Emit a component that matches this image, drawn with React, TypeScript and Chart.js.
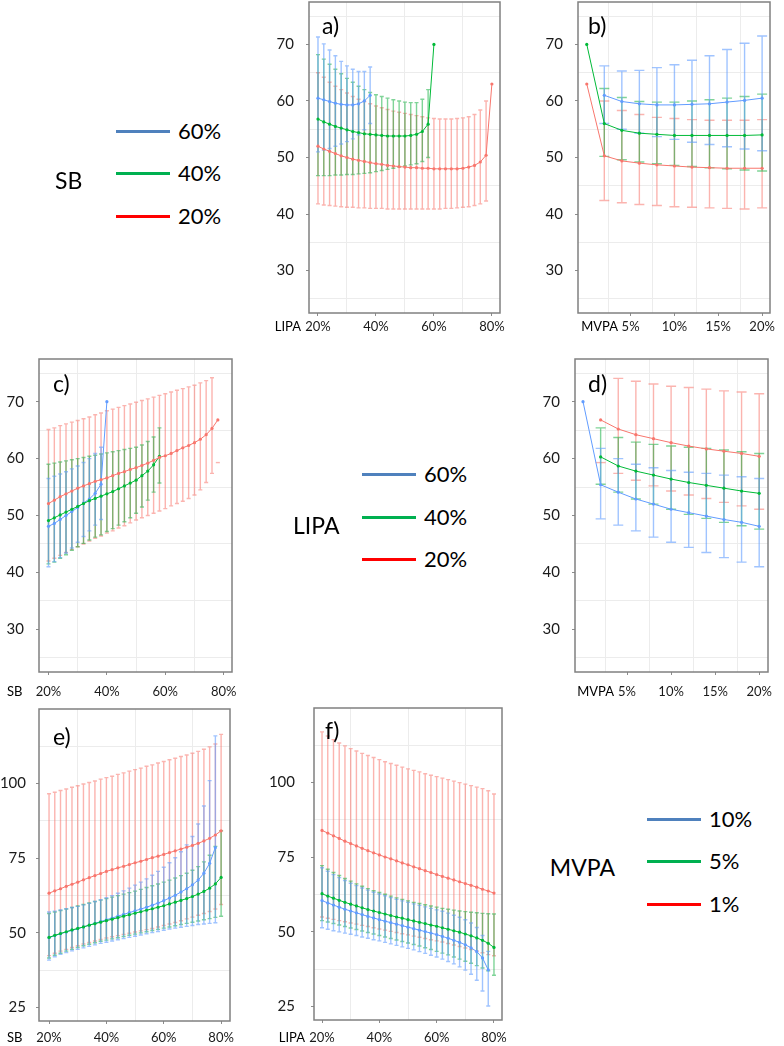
import React, { useEffect, useRef } from "react";
import { Chart, registerables } from "chart.js";

Chart.register(...registerables);

const FONT = "Lato, 'Open Sans', sans-serif";

// series colours (lines / points) and the paler tints of their error bars
const RED = "#F8766D";
const GREEN = "#00BA38";
const BLUE = "#619CFF";
const RED_BAR = "rgba(248, 118, 109, 0.55)";
const GREEN_BAR = "rgba(0, 170, 50, 0.5)";
const BLUE_BAR = "rgba(97, 156, 255, 0.6)";
const GRID = "#ececec";
const TICK = "#8c8c8c";

// x positions
const shareSteps = [20, 22, 24, 26, 28, 30, 32, 34, 36, 38, 40, 42, 44, 46, 48, 50, 52, 54, 56, 58, 60, 62, 64, 66, 68, 70, 72, 74, 76, 78, 80];
const mvpaSteps = [0, 2, 4, 6, 8, 10, 12, 14, 16, 18, 20];

// axis ticks (labelled ones carry a tick mark, the others a grid line)
const lowYTicks = [25, 30, 35, 40, 45, 50, 55, 60, 65, 70, 75];
const lowYLabels = [30, 40, 50, 60, 70];
const highYTicks = [25, 37.5, 50, 62.5, 75, 87.5, 100, 112.5];
const highYLabels = [25, 50, 75, 100];
const shareTicks = [20, 30, 40, 50, 60, 70, 80];
const shareLabels = [20, 40, 60, 80];
const mvpaTicks = [2.5, 5, 7.5, 10, 12.5, 15, 17.5, 20];
const mvpaLabels = [5, 10, 15, 20];

// a) x = LIPA, lines = SB
const aRedMean = [52.0, 51.5, 51.1, 50.7, 50.3, 50.0, 49.7, 49.5, 49.3, 49.1, 48.9, 48.8, 48.6, 48.5, 48.4, 48.3, 48.2, 48.2, 48.1, 48.1, 48.0, 48.0, 48.0, 48.0, 48.0, 48.1, 48.3, 48.6, 49.2, 50.4, 63.0];
const aRedHi = [65.0, 64.2, 63.3, 62.6, 62.0, 61.4, 60.8, 60.3, 59.9, 59.5, 59.1, 58.8, 58.5, 58.2, 58.0, 57.8, 57.6, 57.4, 57.2, 57.0, 56.9, 56.8, 56.8, 56.8, 56.9, 57.0, 57.2, 57.6, 58.4, 60.0, null];
const aRedLo = [41.8, 41.6, 41.5, 41.4, 41.3, 41.2, 41.2, 41.1, 41.1, 41.0, 41.0, 41.0, 40.9, 40.9, 40.9, 40.9, 40.9, 40.9, 40.9, 40.9, 40.9, 40.9, 41.0, 41.0, 41.1, 41.2, 41.3, 41.5, 41.8, 42.3, null];
const aGreenMean = [56.8, 56.3, 55.9, 55.5, 55.2, 54.9, 54.6, 54.4, 54.2, 54.1, 54.0, 53.9, 53.8, 53.8, 53.8, 53.8, 53.9, 54.1, 54.6, 55.9, 70.0];
const aGreenHi = [68.2, 67.4, 66.5, 65.6, 64.8, 64.0, 63.3, 62.6, 62.0, 61.5, 61.1, 60.8, 60.5, 60.2, 60.0, 59.8, 59.7, 59.7, 60.3, 62.0, null];
const aGreenLo = [46.8, 46.8, 46.8, 46.9, 46.9, 47.0, 47.0, 47.1, 47.2, 47.3, 47.5, 47.7, 47.9, 48.1, 48.3, 48.5, 48.7, 48.9, 49.3, 50.0, null];
const aBlueMean = [60.5, 60.2, 59.9, 59.6, 59.4, 59.3, 59.3, 59.5, 60.0, 61.0];
const aBlueHi = [71.3, 70.1, 69.0, 68.0, 67.0, 66.2, 65.6, 65.2, 65.2, 66.0];
const aBlueLo = [51.0, 51.3, 51.6, 52.0, 52.4, 52.8, 53.3, 54.0, 54.9, 56.0];

// b) x = MVPA, lines = SB
const bRedMean = [63.0, 50.3, 49.4, 49.0, 48.7, 48.5, 48.3, 48.2, 48.1, 48.1, 48.1];
const bRedHi = [null, 60.0, 58.3, 57.6, 57.1, 56.9, 56.7, 56.6, 56.6, 56.6, 56.7];
const bRedLo = [null, 42.4, 42.0, 41.7, 41.5, 41.3, 41.2, 41.1, 41.0, 40.9, 41.1];
const bGreenMean = [70.0, 56.0, 54.8, 54.3, 54.1, 53.9, 53.9, 53.9, 53.9, 53.9, 54.0];
const bGreenHi = [null, 62.2, 60.6, 59.9, 59.8, 59.8, 60.0, 60.2, 60.5, 60.8, 61.2];
const bGreenLo = [null, 50.2, 49.6, 49.2, 48.9, 48.6, 48.4, 48.2, 48.0, 47.8, 47.6];
const bBlueMean = [null, 61.0, 59.9, 59.5, 59.3, 59.3, 59.4, 59.5, 59.8, 60.1, 60.5];
const bBlueHi = [null, 66.2, 65.3, 65.4, 65.9, 66.4, 67.2, 68.0, 69.1, 70.2, 71.5];
const bBlueLo = [null, 56.0, 55.0, 54.3, 53.7, 53.2, 52.7, 52.3, 51.9, 51.5, 51.2];

// c) x = SB, lines = LIPA
const cRedMean = [52.1, 52.7, 53.3, 53.8, 54.3, 54.8, 55.2, 55.6, 56.0, 56.3, 56.6, 57.0, 57.4, 57.7, 58.1, 58.4, 58.8, 59.2, 59.7, 60.2, 60.5, 60.9, 61.4, 61.9, 62.3, 62.8, 63.4, 64.2, 65.3, 66.8];
const cRedHi = [65.1, 65.4, 65.8, 66.1, 66.4, 66.7, 67.0, 67.3, 67.7, 68.0, 68.4, 68.7, 69.0, 69.3, 69.6, 69.9, 70.2, 70.5, 70.8, 71.1, 71.4, 71.7, 72.0, 72.3, 72.6, 72.9, 73.3, 73.7, 74.2, null];
const cRedLo = [42.0, 42.5, 43.0, 43.5, 44.0, 44.5, 45.0, 45.5, 46.0, 46.4, 46.9, 47.3, 47.8, 48.2, 48.7, 49.2, 49.6, 50.0, 50.4, 50.8, 51.2, 51.7, 52.1, 52.5, 53.0, 53.6, 54.5, 55.8, 57.4, 59.3];
const cGreenMean = [49.1, 49.6, 50.1, 50.6, 51.1, 51.6, 52.1, 52.6, 53.0, 53.4, 53.8, 54.2, 54.7, 55.2, 55.7, 56.2, 57.0, 57.8, 58.9, 60.4];
const cGreenHi = [59.0, 59.2, 59.4, 59.6, 59.8, 60.0, 60.2, 60.4, 60.6, 60.8, 61.0, 61.2, 61.4, 61.6, 61.8, 62.0, 62.4, 63.0, 63.8, 65.4];
const cGreenLo = [41.5, 41.8, 42.5, 43.1, 43.9, 44.5, 45.1, 45.7, 46.2, 46.6, 47.2, 47.7, 48.3, 48.9, 49.6, 50.4, 51.5, 52.7, 54.1, 55.7];
const cBlueMean = [48.1, 48.6, 49.3, 50.0, 50.7, 51.4, 52.2, 52.9, 53.9, 55.5, 70.0];
const cBlueHi = [56.5, 56.9, 57.3, 57.7, 58.2, 58.7, 59.3, 60.0, 60.9, 62.0, null];
const cBlueLo = [41.0, 41.9, 42.6, 43.4, 44.3, 45.3, 46.3, 47.3, 48.3, 49.3, null];

// d) x = MVPA, lines = LIPA
const dRedMean = [null, 66.8, 65.2, 64.2, 63.5, 62.8, 62.2, 61.7, 61.3, 60.9, 60.4];
const dRedHi = [null, null, 74.1, 73.6, 73.1, 72.7, 72.5, 72.2, 71.9, 71.7, 71.4];
const dRedLo = [null, 59.3, 57.4, 56.2, 55.2, 54.3, 53.6, 53.0, 52.3, 51.7, 51.1];
const dGreenMean = [null, 60.3, 58.7, 57.8, 57.1, 56.4, 55.8, 55.3, 54.8, 54.3, 53.9];
const dGreenHi = [null, 65.4, 63.7, 62.9, 62.5, 62.2, 62.0, 61.8, 61.5, 61.2, 60.9];
const dGreenLo = [null, 55.5, 54.1, 52.9, 52.0, 51.1, 50.2, 49.5, 48.8, 48.2, 47.6];
const dBlueMean = [70.0, 55.4, 54.1, 52.9, 52.0, 51.1, 50.5, 49.9, 49.3, 48.8, 48.1];
const dBlueHi = [null, 61.8, 60.0, 59.0, 58.4, 57.9, 57.6, 57.4, 57.1, 56.8, 56.5];
const dBlueLo = [null, 49.4, 48.3, 47.3, 46.2, 45.3, 44.4, 43.5, 42.6, 41.8, 41.0];

// e) x = SB, lines = MVPA
const eRedMean = [63.3, 64.1, 64.8, 65.6, 66.3, 67.0, 67.8, 68.5, 69.2, 69.9, 70.6, 71.2, 71.8, 72.3, 72.9, 73.5, 74.0, 74.6, 75.2, 75.7, 76.3, 76.9, 77.5, 78.1, 78.7, 79.3, 80.0, 80.8, 81.7, 82.8, 84.2];
const eRedHi = [96.6, 97.1, 97.7, 98.2, 98.8, 99.3, 99.9, 100.4, 100.9, 101.5, 102.0, 102.5, 103.1, 103.6, 104.2, 104.7, 105.2, 105.8, 106.3, 106.9, 107.4, 108.0, 108.5, 109.1, 109.6, 110.2, 110.8, 111.5, 112.3, 113.3, 116.5];
const eRedLo = [42.4, 43.2, 43.9, 44.5, 45.1, 45.7, 46.3, 46.8, 47.3, 47.8, 48.3, 48.7, 49.1, 49.5, 49.9, 50.3, 50.7, 51.1, 51.5, 52.0, 52.5, 53.0, 53.5, 54.1, 54.7, 55.3, 55.9, 56.5, 57.2, 58.0, 59.5];
const eGreenMean = [48.5, 49.2, 49.8, 50.4, 51.0, 51.5, 52.0, 52.6, 53.1, 53.6, 54.1, 54.6, 55.1, 55.6, 56.1, 56.6, 57.1, 57.6, 58.1, 58.6, 59.1, 59.7, 60.3, 60.9, 61.5, 62.2, 63.0, 63.9, 65.0, 66.4, 68.6];
const eGreenHi = [56.5, 57.0, 57.5, 58.0, 58.5, 59.0, 59.5, 60.0, 60.5, 61.0, 61.5, 62.0, 62.5, 63.0, 63.5, 64.0, 64.6, 65.2, 65.8, 66.4, 67.0, 67.7, 68.4, 69.2, 70.0, 71.0, 72.2, 73.8, 76.0, 79.0, 84.2];
const eGreenLo = [41.6, 42.5, 43.2, 43.9, 44.5, 45.1, 45.7, 46.2, 46.7, 47.2, 47.6, 48.0, 48.4, 48.8, 49.2, 49.6, 50.0, 50.4, 50.8, 51.2, 51.6, 52.0, 52.4, 52.8, 53.2, 53.6, 54.0, 54.4, 54.8, 55.2, 55.6];
const eBlueMean = [48.4, 49.1, 49.7, 50.3, 50.9, 51.4, 52.0, 52.6, 53.2, 53.8, 54.4, 55.0, 55.6, 56.2, 56.8, 57.4, 58.0, 58.6, 59.3, 60.0, 60.8, 61.7, 62.6, 63.7, 64.8, 66.1, 67.7, 70.0, 73.3, 78.6];
const eBlueHi = [57.0, 57.3, 57.7, 58.1, 58.5, 58.9, 59.4, 59.9, 60.5, 61.1, 61.8, 62.5, 63.3, 64.1, 65.0, 66.0, 67.0, 68.1, 69.3, 70.6, 72.0, 73.5, 75.2, 77.2, 79.5, 82.3, 86.5, 92.5, 101.0, 116.0];
const eBlueLo = [40.9, 42.0, 42.8, 43.4, 44.0, 44.5, 45.0, 45.5, 46.0, 46.5, 46.9, 47.3, 47.7, 48.1, 48.5, 48.9, 49.3, 49.7, 50.1, 50.5, 50.9, 51.3, 51.6, 51.9, 52.2, 52.5, 52.8, 53.0, 53.2, 53.4];

// f) x = LIPA, lines = MVPA
const fRedMean = [84.0, 83.1, 82.2, 81.3, 80.4, 79.6, 78.8, 78.0, 77.2, 76.5, 75.8, 75.1, 74.5, 73.8, 73.1, 72.5, 71.8, 71.2, 70.5, 69.9, 69.2, 68.6, 68.0, 67.4, 66.8, 66.2, 65.6, 65.0, 64.3, 63.7, 63.0];
const fRedHi = [117.0, 115.6, 114.4, 113.3, 112.3, 111.4, 110.6, 109.8, 109.1, 108.4, 107.7, 107.0, 106.4, 105.8, 105.2, 104.6, 104.1, 103.6, 103.0, 102.5, 102.0, 101.5, 101.0, 100.5, 100.0, 99.5, 99.0, 98.5, 98.0, 97.3, 96.2];
const fRedLo = [55.0, 54.6, 54.2, 53.8, 53.4, 53.0, 52.6, 52.2, 51.8, 51.4, 51.0, 50.6, 50.2, 49.8, 49.4, 49.0, 48.6, 48.2, 47.8, 47.4, 47.0, 46.6, 46.1, 45.6, 45.1, 44.6, 44.1, 43.6, 43.0, 42.4, 42.0];
const fGreenMean = [62.8, 62.0, 61.3, 60.6, 59.9, 59.3, 58.7, 58.1, 57.5, 57.0, 56.5, 56.0, 55.5, 55.0, 54.6, 54.1, 53.7, 53.2, 52.8, 52.3, 51.9, 51.4, 50.9, 50.4, 49.9, 49.3, 48.7, 48.0, 47.2, 46.2, 44.8];
const fGreenHi = [72.2, 71.0, 69.9, 68.9, 67.9, 67.0, 66.1, 65.3, 64.5, 63.8, 63.2, 62.6, 62.0, 61.4, 60.9, 60.4, 59.9, 59.5, 59.1, 58.7, 58.3, 57.9, 57.6, 57.3, 57.0, 56.8, 56.6, 56.4, 56.2, 56.1, 56.0];
const fGreenLo = [53.8, 53.3, 52.8, 52.3, 51.8, 51.3, 50.8, 50.3, 49.8, 49.3, 48.8, 48.3, 47.8, 47.3, 46.8, 46.3, 45.8, 45.3, 44.7, 44.1, 43.5, 42.9, 42.3, 41.6, 40.9, 40.2, 39.5, 38.7, 37.9, 37.0, 35.5];
const fBlueMean = [60.5, 59.7, 59.0, 58.3, 57.6, 57.0, 56.4, 55.8, 55.2, 54.7, 54.1, 53.6, 53.1, 52.6, 52.1, 51.6, 51.1, 50.6, 50.1, 49.6, 49.1, 48.5, 47.9, 47.2, 46.5, 45.7, 44.7, 43.4, 41.3, 37.3];
const fBlueHi = [71.5, 70.3, 69.2, 68.2, 67.2, 66.3, 65.5, 64.7, 64.0, 63.3, 62.7, 62.1, 61.5, 60.9, 60.4, 59.9, 59.4, 58.9, 58.4, 57.9, 57.4, 56.9, 56.3, 55.6, 54.9, 54.1, 53.0, 51.5, 48.8, 43.5];
const fBlueLo = [51.4, 50.9, 50.4, 50.0, 49.6, 49.2, 48.8, 48.3, 47.9, 47.4, 47.0, 46.5, 46.0, 45.5, 45.0, 44.5, 44.0, 43.4, 42.8, 42.2, 41.6, 40.9, 40.1, 39.3, 38.3, 37.2, 35.8, 33.8, 30.2, 25.2];

type Val = number | null;

function line(color: string, bar: string, xs: number[], mean: Val[], lo: Val[], hi: Val[]) {
  const data: any[] = [];
  mean.forEach((y, i) => {
    if (y === null) return;
    data.push({ x: xs[i], y, lo: lo[i] ?? null, hi: hi[i] ?? null });
  });
  return {
    data,
    borderColor: color,
    backgroundColor: color,
    borderWidth: 1,
    pointRadius: 1.6,
    pointBorderWidth: 0,
    pointBackgroundColor: color,
    tension: 0,
    barColor: bar,
  };
}

// vertical CI bars with caps, drawn underneath the lines
const errorBars = {
  id: "errorBars",
  beforeDatasetsDraw(chart: any, _args: any, opts: any) {
    const { ctx, chartArea: a, scales } = chart;
    const cw = (opts.cap || 4) / 2;
    ctx.save();
    ctx.beginPath();
    ctx.rect(a.left, a.top, a.right - a.left, a.bottom - a.top);
    ctx.clip();
    ctx.lineWidth = 1.4;
    chart.data.datasets.forEach((ds: any) => {
      ctx.strokeStyle = ds.barColor;
      ds.data.forEach((p: any) => {
        const px = scales.x.getPixelForValue(p.x);
        ctx.beginPath();
        if (p.lo !== null && p.hi !== null) {
          ctx.moveTo(px, scales.y.getPixelForValue(p.lo));
          ctx.lineTo(px, scales.y.getPixelForValue(p.hi));
        }
        [p.lo, p.hi].forEach((v: Val) => {
          if (v === null) return;
          const py = scales.y.getPixelForValue(v);
          ctx.moveTo(px - cw, py);
          ctx.lineTo(px + cw, py);
        });
        ctx.stroke();
      });
    });
    ctx.restore();
  },
};

const frame = {
  id: "frame",
  afterDraw(chart: any) {
    const { ctx, chartArea: a } = chart;
    ctx.save();
    ctx.strokeStyle = "#808080";
    ctx.lineWidth = 1.5;
    ctx.strokeRect(a.left, a.top, a.right - a.left, a.bottom - a.top);
    ctx.restore();
  },
};

type Panel = {
  box: [number, number, number, number];
  yW: number;
  yGap: number;
  xPad: number;
  xMin: number;
  xMax: number;
  xTicks: number[];
  xLabels: number[];
  yMin: number;
  yMax: number;
  yTicks: number[];
  yLabels: number[];
  cap: number;
  datasets: any[];
};

function axis(min: number, max: number, ticks: number[], labels: number[], isX: boolean, size: number, pad: number) {
  return {
    type: "linear",
    min,
    max,
    afterBuildTicks: (s: any) => {
      s.ticks = ticks.map((v) => ({ value: v }));
    },
    afterFit: (s: any) => {
      if (isX) s.height = size;
      else s.width = size;
      // no extra room for labels that hang over the plot edges
      s.paddingTop = 0;
      s.paddingBottom = 0;
      s.paddingLeft = 0;
      s.paddingRight = 0;
    },
    border: { display: false },
    grid: {
      color: (c: any) => (labels.includes(c.tick?.value) ? "rgba(0,0,0,0)" : GRID),
      tickColor: (c: any) => (labels.includes(c.tick?.value) ? TICK : "rgba(0,0,0,0)"),
      tickLength: 3,
      lineWidth: 1,
    },
    ticks: {
      autoSkip: false,
      maxRotation: 0,
      padding: pad,
      color: "#1a1a1a",
      font: { family: FONT, size: isX ? 13 : 15 },
      callback: (v: number) => (labels.includes(v) ? (isX ? `${v}%` : `${v}`) : ""),
    },
  };
}

function PanelChart({ p }: { p: Panel }) {
  const ref = useRef<HTMLCanvasElement>(null);
  const [L, T, R, B] = p.box;
  const xH = 3 + p.xPad + 18;
  const w = p.yW + (R - L) + 10;
  const h = 3 + (B - T) + xH;

  useEffect(() => {
    if (!ref.current) return;
    const chart = new Chart(ref.current, {
      type: "line",
      data: { datasets: p.datasets },
      options: {
        animation: false,
        responsive: false,
        maintainAspectRatio: false,
        layout: { autoPadding: false, padding: { top: 3, right: 10, left: 0, bottom: 0 } },
        plugins: {
          legend: { display: false },
          tooltip: { enabled: false },
          errorBars: { cap: p.cap },
        },
        scales: {
          x: axis(p.xMin, p.xMax, p.xTicks, p.xLabels, true, xH, p.xPad),
          y: axis(p.yMin, p.yMax, p.yTicks, p.yLabels, false, p.yW, p.yGap - 3),
        },
      } as any,
      plugins: [errorBars, frame],
    });
    return () => chart.destroy();
  }, [p]);

  return (
    <canvas
      ref={ref}
      width={w}
      height={h}
      style={{ position: "absolute", left: L - p.yW, top: T - 3, width: w, height: h }}
    />
  );
}

// draw order: red, green, blue (blue ends up on top)
const panels: Panel[] = [
  {
    box: [309, 2, 500, 313], yW: 45, yGap: 15, xPad: 3, xMin: 16.9, xMax: 82.8,
    xTicks: shareTicks, xLabels: shareLabels, yMin: 22.5, yMax: 77.5, yTicks: lowYTicks, yLabels: lowYLabels, cap: 4,
    datasets: [
      line(RED, RED_BAR, shareSteps, aRedMean, aRedLo, aRedHi),
      line(GREEN, GREEN_BAR, shareSteps, aGreenMean, aGreenLo, aGreenHi),
      line(BLUE, BLUE_BAR, shareSteps, aBlueMean, aBlueLo, aBlueHi),
    ],
  },
  {
    box: [578, 2, 770, 313], yW: 45, yGap: 15, xPad: 3, xMin: -1.0, xMax: 20.9,
    xTicks: mvpaTicks, xLabels: mvpaLabels, yMin: 22.5, yMax: 77.5, yTicks: lowYTicks, yLabels: lowYLabels, cap: 10,
    datasets: [
      line(RED, RED_BAR, mvpaSteps, bRedMean, bRedLo, bRedHi),
      line(GREEN, GREEN_BAR, mvpaSteps, bGreenMean, bGreenLo, bGreenHi),
      line(BLUE, BLUE_BAR, mvpaSteps, bBlueMean, bBlueLo, bBlueHi),
    ],
  },
  {
    box: [39, 359, 232, 672], yW: 39, yGap: 15, xPad: 9, xMin: 16.75, xMax: 82.85,
    xTicks: shareTicks, xLabels: shareLabels, yMin: 22.5, yMax: 77.5, yTicks: lowYTicks, yLabels: lowYLabels, cap: 4,
    datasets: [
      line(RED, RED_BAR, shareSteps, cRedMean, cRedLo, cRedHi),
      line(GREEN, GREEN_BAR, shareSteps, cGreenMean, cGreenLo, cGreenHi),
      line(BLUE, BLUE_BAR, shareSteps, cBlueMean, cBlueLo, cBlueHi),
    ],
  },
  {
    box: [575, 359, 768, 672], yW: 45, yGap: 15, xPad: 9, xMin: -0.91, xMax: 21.0,
    xTicks: mvpaTicks, xLabels: mvpaLabels, yMin: 22.5, yMax: 77.5, yTicks: lowYTicks, yLabels: lowYLabels, cap: 10,
    datasets: [
      line(RED, RED_BAR, mvpaSteps, dRedMean, dRedLo, dRedHi),
      line(GREEN, GREEN_BAR, mvpaSteps, dGreenMean, dGreenLo, dGreenHi),
      line(BLUE, BLUE_BAR, mvpaSteps, dBlueMean, dBlueLo, dBlueHi),
    ],
  },
  {
    box: [39, 709, 230, 1021], yW: 39, yGap: 13, xPad: 6, xMin: 16.5, xMax: 83.1,
    xTicks: shareTicks, xLabels: shareLabels, yMin: 20.5, yMax: 125, yTicks: highYTicks, yLabels: highYLabels, cap: 4,
    datasets: [
      line(RED, RED_BAR, shareSteps, eRedMean, eRedLo, eRedHi),
      line(GREEN, GREEN_BAR, shareSteps, eGreenMean, eGreenLo, eGreenHi),
      line(BLUE, BLUE_BAR, shareSteps, eBlueMean, eBlueLo, eBlueHi),
    ],
  },
  {
    box: [314, 708, 502, 1020], yW: 45, yGap: 19, xPad: 7, xMin: 17.2, xMax: 82.8,
    xTicks: shareTicks, xLabels: shareLabels, yMin: 20.5, yMax: 125, yTicks: highYTicks, yLabels: highYLabels, cap: 4,
    datasets: [
      line(RED, RED_BAR, shareSteps, fRedMean, fRedLo, fRedHi),
      line(GREEN, GREEN_BAR, shareSteps, fGreenMean, fGreenLo, fGreenHi),
      line(BLUE, BLUE_BAR, shareSteps, fBlueMean, fBlueLo, fBlueHi),
    ],
  },
];

function Txt({ x, y, size, right, children }: { x: number; y: number; size: number; right?: boolean; children: React.ReactNode }) {
  return (
    <div
      style={{
        position: "absolute",
        left: x,
        top: y - size * 0.6,
        fontSize: size,
        lineHeight: `${size * 1.2}px`,
        whiteSpace: "nowrap",
        transform: right ? "translateX(-100%)" : undefined,
      }}
    >
      {children}
    </div>
  );
}

function Legend({ title, titleX, titleRight, titleY, lineX, ys, labels }: {
  title: string; titleX: number; titleRight?: boolean; titleY: number; lineX: number; ys: number[]; labels: string[];
}) {
  const colors = ["#4F81BD", "#00B050", "#FF0000"];
  return (
    <>
      <Txt x={titleX} y={titleY} size={23} right={titleRight}>{title}</Txt>
      {ys.map((y, i) => (
        <React.Fragment key={i}>
          <div style={{ position: "absolute", left: lineX, top: y - 1.5, width: 54, height: 3, background: colors[i] }} />
          <Txt x={lineX + 62} y={y} size={22}>{labels[i]}</Txt>
        </React.Fragment>
      ))}
    </>
  );
}

export default function App() {
  return (
    <div
      style={{
        position: "absolute",
        left: 0,
        top: 0,
        width: 784,
        height: 1046,
        overflow: "hidden",
        background: "#fff",
        color: "#000",
        fontFamily: FONT,
      }}
    >
      {panels.map((p, i) => (
        <PanelChart key={i} p={p} />
      ))}

      <Txt x={322} y={26} size={23}>a)</Txt>
      <Txt x={588} y={26} size={23}>b)</Txt>
      <Txt x={53} y={384} size={23}>c)</Txt>
      <Txt x={588} y={384} size={23}>d)</Txt>
      <Txt x={53} y={737} size={23}>e)</Txt>
      <Txt x={325} y={731} size={23}>f)</Txt>

      <Txt x={301} y={327} size={13} right>LIPA</Txt>
      <Txt x={618} y={327} size={13} right>MVPA</Txt>
      <Txt x={7} y={692} size={13}>SB</Txt>
      <Txt x={614} y={692} size={13} right>MVPA</Txt>
      <Txt x={7} y={1038} size={13}>SB</Txt>
      <Txt x={305} y={1038} size={13} right>LIPA</Txt>

      <Legend title="SB" titleX={55} titleY={181} lineX={116} ys={[131, 173, 216]} labels={["60%", "40%", "20%"]} />
      <Legend title="LIPA" titleX={293} titleY={526} lineX={362} ys={[474, 517, 559]} labels={["60%", "40%", "20%"]} />
      <Legend title="MVPA" titleX={615} titleRight titleY={868} lineX={647} ys={[819, 861, 904]} labels={["10%", "5%", "1%"]} />
    </div>
  );
}
